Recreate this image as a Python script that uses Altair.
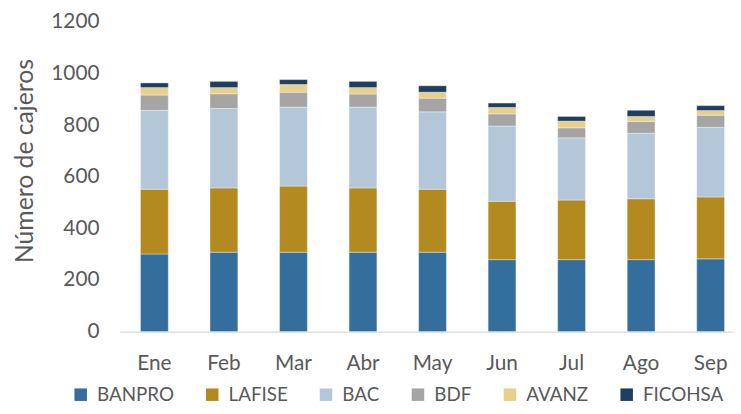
import altair as alt
import pandas as pd

months = ["Ene", "Feb", "Mar", "Abr", "May", "Jun", "Jul", "Ago", "Sep"]
banks = ["BANPRO", "LAFISE", "BAC", "BDF", "AVANZ", "FICOHSA"]
colors = ["#336e9c", "#b38a1f", "#b4c7d9", "#a5a5a5", "#e8cf8a", "#203f5e"]

banpro = [301, 308, 308, 308, 308, 279, 279, 279, 282]
lafise = [251, 249, 256, 249, 244, 226, 231, 236, 240]
bac = [306, 308, 306, 313, 300, 292, 241, 254, 270]
bdf = [59, 57, 58, 51, 53, 47, 39, 46, 47]
avanz = [29, 24, 30, 25, 23, 25, 26, 19, 18]
ficohsa = [18, 24, 19, 24, 25, 17, 18, 24, 19]

series = [banpro, lafise, bac, bdf, avanz, ficohsa]
rows = []
for bi, (b, vals) in enumerate(zip(banks, series)):
    for m, v in zip(months, vals):
        rows.append({"mes": m, "banco": b, "valor": v, "idx": bi})
df = pd.DataFrame(rows)

font = "Lato"
grey = "#595959"

chart = alt.Chart(df).mark_bar(
    stroke="white", strokeWidth=0.6, strokeOpacity=0.6
).encode(
    x=alt.X("mes:N", sort=months, title=None,
            scale=alt.Scale(paddingInner=0.6, paddingOuter=0.21, align=0.71),
            axis=alt.Axis(labelAngle=0, labelFontSize=21, labelColor=grey, labelFont=font,
                          ticks=False, domainColor="#d9d9d9", domainWidth=1.5, labelPadding=21)),
    y=alt.Y("valor:Q", title="Número de cajeros",
            scale=alt.Scale(domain=[0, 1200], nice=False),
            axis=alt.Axis(values=[0, 200, 400, 600, 800, 1000, 1200], format="d", grid=False,
                          domain=False, ticks=False, labelFontSize=21, labelColor=grey,
                          labelFont=font, labelPadding=21, titleFontSize=25, titleColor=grey,
                          titleFont=font, titleFontWeight="normal",
                          titleX=-96, titleY=140, titleAngle=270, titleAlign="center",
                          titleBaseline="middle")),
    color=alt.Color("banco:N", sort=banks,
                    scale=alt.Scale(domain=banks, range=colors),
                    legend=alt.Legend(title=None, orient="none", direction="horizontal",
                                      legendX=-49, legendY=367,
                                      symbolType="square", symbolSize=160, symbolStrokeWidth=0,
                                      labelFontSize=19, labelColor=grey, labelFont=font,
                                      columnPadding=29, labelOffset=7)),
    order=alt.Order("idx:Q", sort="ascending"),
).properties(
    width=620, height=313,
    background="white",
    autosize=alt.AutoSizeParams(type="none"),
    padding={"left": 113, "top": 12, "right": 0, "bottom": 73},
).configure_view(strokeWidth=0)

chart.save("out.html", embed_options={"renderer": "svg", "actions": False})
